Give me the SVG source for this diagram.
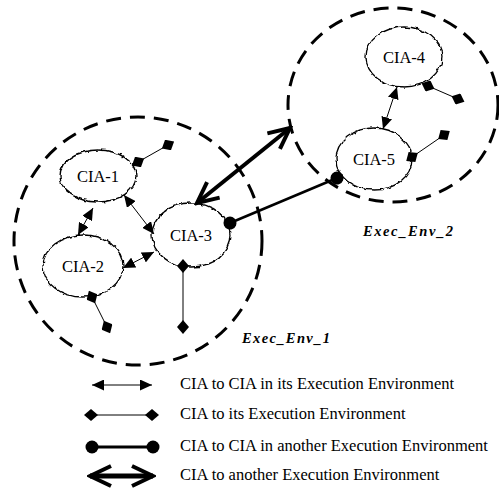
<svg xmlns="http://www.w3.org/2000/svg" width="499" height="489" viewBox="0 0 499 489">
<style>
.env{fill:none;stroke:#000;stroke-width:3;stroke-dasharray:15 9}
.node{fill:#fff;stroke:#000;stroke-width:1.3}
.lbl{font-family:"Liberation Serif","Times New Roman",serif;font-size:16.5px;fill:#000;text-anchor:middle}
.envlbl{font-family:"Liberation Serif","Times New Roman",serif;font-size:14.5px;font-weight:bold;font-style:italic;fill:#000}
.leg{font-family:"Liberation Serif","Times New Roman",serif;font-size:16.5px;fill:#000}
.c2c{fill:none;stroke:#000;stroke-width:1;marker-start:url(#tri);marker-end:url(#tri)}
.c2e{fill:none;stroke:#000;stroke-width:1;marker-start:url(#dia);marker-end:url(#dia)}
.c2o{fill:none;stroke:#000;stroke-width:2.5;marker-start:url(#dot);marker-end:url(#dot)}
.c2oe{fill:none;stroke:#000;stroke-width:4;marker-start:url(#open);marker-end:url(#open)}
</style>
<defs>
<filter id="wavy" x="-15%" y="-15%" width="130%" height="130%">
<feTurbulence type="fractalNoise" baseFrequency="0.15" numOctaves="2" seed="4" result="n"/>
<feDisplacementMap in="SourceGraphic" in2="n" scale="4" xChannelSelector="R" yChannelSelector="G"/>
</filter>
<marker id="tri" viewBox="0 0 12 11" refX="12" refY="5.5" markerWidth="12" markerHeight="11" markerUnits="userSpaceOnUse" orient="auto-start-reverse">
<path d="M0,0 L12,5.5 L0,11 z" fill="#000"/>
</marker>
<marker id="dia" viewBox="0 0 14 12" refX="7" refY="6" markerWidth="14" markerHeight="12" markerUnits="userSpaceOnUse" orient="auto-start-reverse">
<path d="M0,6 L7,0 L14,6 L7,12 z" fill="#000"/>
</marker>
<marker id="dot" viewBox="0 0 14 14" refX="7" refY="7" markerWidth="14" markerHeight="14" markerUnits="userSpaceOnUse" orient="auto">
<circle cx="7" cy="7" r="6.5" fill="#000"/>
</marker>
<marker id="open" viewBox="0 0 26 24" refX="23" refY="12" markerWidth="26" markerHeight="24" markerUnits="userSpaceOnUse" orient="auto-start-reverse">
<path d="M2,2 L23,12 L2,22" fill="none" stroke="#000" stroke-width="4"/>
</marker>
</defs>

<g id="exec_env_1">
<circle class="env" cx="138" cy="241" r="124"/>
<text class="envlbl" x="242" y="343" textLength="88">Exec_Env_1</text>
</g>
<g id="exec_env_2">
<ellipse class="env" cx="393" cy="105" rx="105" ry="97"/>
<text class="envlbl" x="363" y="236" textLength="90">Exec_Env_2</text>
</g>

<g id="cia-1">
<ellipse class="node" cx="98" cy="176" rx="38" ry="26" filter="url(#wavy)"/>
<text class="lbl" x="98" y="182">CIA-1</text>
</g>
<g id="cia-2">
<ellipse class="node" cx="83" cy="266" rx="40" ry="31" filter="url(#wavy)"/>
<text class="lbl" x="83" y="272">CIA-2</text>
</g>
<g id="cia-3">
<ellipse class="node" cx="191" cy="235" rx="39" ry="32" filter="url(#wavy)"/>
<text class="lbl" x="191" y="241">CIA-3</text>
</g>
<g id="cia-4">
<ellipse class="node" cx="404" cy="57" rx="38" ry="30" filter="url(#wavy)"/>
<text class="lbl" x="404" y="63">CIA-4</text>
</g>
<g id="cia-5">
<ellipse class="node" cx="374" cy="159" rx="38" ry="31" filter="url(#wavy)"/>
<text class="lbl" x="374" y="165">CIA-5</text>
</g>

<g id="connectors">
<line class="c2c" x1="93" y1="208" x2="78" y2="235"/>
<line class="c2c" x1="124" y1="195" x2="154" y2="234"/>
<line class="c2c" x1="123" y1="268" x2="154" y2="252"/>
<line class="c2c" x1="397" y1="87" x2="383" y2="129"/>
<line class="c2e" x1="138" y1="162" x2="168" y2="145"/>
<line class="c2e" x1="92" y1="297" x2="107" y2="327"/>
<line class="c2e" x1="183" y1="266" x2="183" y2="327"/>
<line class="c2e" x1="428" y1="86" x2="458" y2="99"/>
<line class="c2e" x1="412" y1="157" x2="444" y2="135"/>
<line class="c2o" x1="230" y1="223" x2="337" y2="178"/>
<line class="c2oe" x1="197" y1="203" x2="290" y2="128"/>
</g>

<g id="legend">
<line class="c2c" x1="92" y1="385" x2="152" y2="385"/>
<text class="leg" x="180" y="389">CIA to CIA in its Execution Environment</text>
<line class="c2e" x1="91" y1="415" x2="152" y2="415"/>
<text class="leg" x="180" y="419">CIA to its Execution Environment</text>
<line class="c2o" x1="92" y1="447" x2="153" y2="447" style="stroke-width:3"/>
<text class="leg" x="180" y="451">CIA to CIA in another Execution Environment</text>
<line class="c2oe" x1="90" y1="476" x2="153" y2="476" style="stroke-width:5"/>
<text class="leg" x="180" y="480">CIA to another Execution Environment</text>
</g>
</svg>
